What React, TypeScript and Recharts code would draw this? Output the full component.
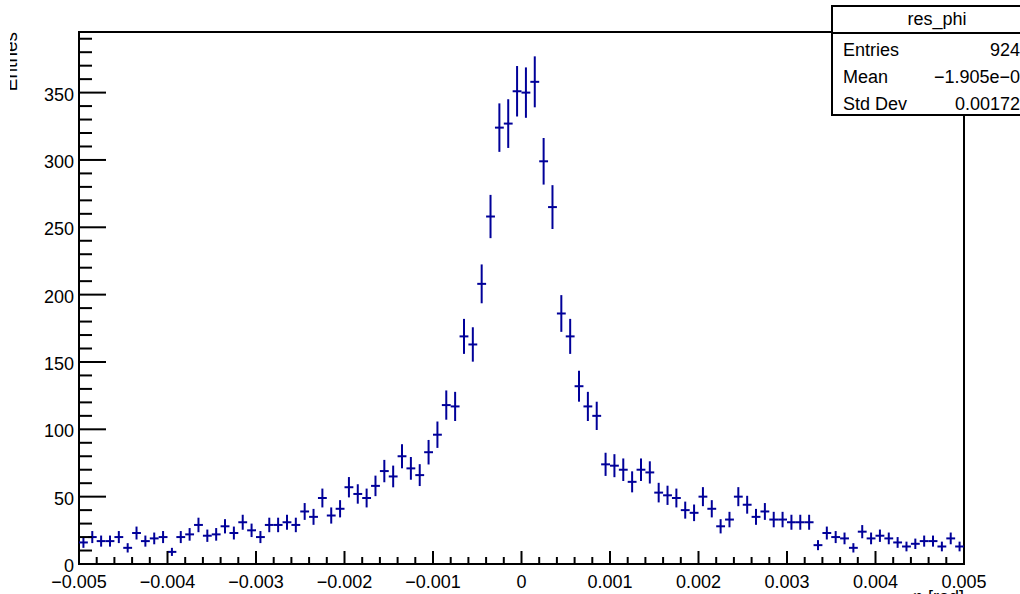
import React from "react";
import { ScatterChart, Scatter, XAxis, YAxis, ErrorBar, ReferenceArea } from "recharts";

// res_phi: 100 bins over [-0.005, 0.005] rad
const binLow = -0.005;
const binWidth = 0.0001;

const counts = [
  16, 20, 17, 17, 20, 12, 23, 17, 19, 20,
  9, 20, 22, 29, 21, 22, 28, 23, 31, 25,
  20, 29, 29, 31, 29, 39, 35, 49, 36, 41,
  57, 52, 49, 58, 69, 65, 80, 71, 66, 83,
  96, 118, 117, 169, 163, 208, 258, 324, 327, 351,
  350, 358, 299, 265, 186, 169, 132, 117, 110, 74,
  73, 70, 61, 70, 68, 53, 51, 49, 40, 38,
  50, 41, 28, 33, 50, 44, 35, 39, 33, 33,
  31, 31, 31, 14, 23, 20, 19, 12, 24, 19,
  21, 19, 16, 13, 15, 17, 17, 13, 19, 13,
];

const yMax = 395;
const yMajorTicks = [0, 50, 100, 150, 200, 250, 300, 350];
const xMajorTicks = [-0.005, -0.004, -0.003, -0.002, -0.001, 0, 0.001, 0.002, 0.003, 0.004, 0.005];

const statsTitle = "res_phi";
const statsLabels = ["Entries", "Mean", "Std Dev"];
const statsValues = ["9240", "\u22121.905e\u221205", "0.001723"];

const yTitle = "Entries";
const xTitle = "\u03c6 [rad]";

const HIST = "#000099";
const FONT = "'Liberation Sans', Arial, Helvetica, sans-serif";

const points = counts.map((c, i) => ({
  x: binLow + (i + 0.5) * binWidth,
  y: c,
  err: Math.sqrt(c),
  xerr: binWidth / 2,
}));

// minor ticks: 10 on y, 0.0002 on x
const yTicks: number[] = [];
for (let v = 0; v < yMax; v += 10) yTicks.push(v);
const xTicks: number[] = [];
for (let k = -50; k <= 50; k += 2) xTicks.push(k / 10000);

const fmtX = (v: number) => {
  if (Math.abs(v) < 1e-9) return "0";
  return (v < 0 ? "\u2212" : "") + Math.abs(v).toFixed(3);
};

function YTick(props: any) {
  const { x, y, payload } = props;
  const v = payload.value;
  const major = yMajorTicks.includes(v);
  return (
    <g>
      <line x1={x} x2={x + (major ? 27 : 13)} y1={y} y2={y} stroke="#000" strokeWidth={2} />
      {major && (
        <text x={x - 5} y={y + 8} textAnchor="end" fontSize={18} fill="#000" fontFamily={FONT}>
          {v}
        </text>
      )}
    </g>
  );
}

function XTick(props: any) {
  const { x, y, payload } = props;
  const v = payload.value;
  const major = xMajorTicks.some((m) => Math.abs(m - v) < 1e-9);
  return (
    <g>
      <line x1={x} x2={x} y1={y} y2={y - (major ? 13 : 7)} stroke="#000" strokeWidth={2} />
      {major && (
        <text x={x} y={y + 24} textAnchor="middle" fontSize={18} fill="#000" fontFamily={FONT}>
          {fmtX(v)}
        </text>
      )}
    </g>
  );
}

export default function App() {
  return (
    <div
      style={{
        position: "absolute",
        left: 0,
        top: 0,
        width: 1020,
        height: 594,
        overflow: "hidden",
        background: "#fff",
        fontFamily: FONT,
      }}
    >
      <ScatterChart width={1020} height={594} margin={{ top: 32, right: 56, bottom: 0, left: 0 }}>
        <XAxis
          dataKey="x"
          type="number"
          domain={[-0.005, 0.005]}
          allowDataOverflow
          ticks={xTicks}
          interval={0}
          tick={<XTick />}
          tickLine={false}
          axisLine={false}
          tickSize={0}
          tickMargin={0}
          height={30}
        />
        <YAxis
          dataKey="y"
          type="number"
          domain={[0, yMax]}
          allowDataOverflow
          ticks={yTicks}
          interval={0}
          tick={<YTick />}
          tickLine={false}
          axisLine={false}
          tickSize={0}
          tickMargin={0}
          width={79}
        />
        <ReferenceArea
          x1={-0.005}
          x2={0.005}
          y1={0}
          y2={yMax}
          fill="none"
          fillOpacity={0}
          stroke="#000"
          strokeWidth={2}
        />
        <Scatter data={points} isAnimationActive={false} shape={() => <g />}>
          <ErrorBar dataKey="err" direction="y" width={0} stroke={HIST} strokeWidth={2} />
          <ErrorBar dataKey="xerr" direction="x" width={0} stroke={HIST} strokeWidth={2} />
        </Scatter>
      </ScatterChart>

      <svg
        width={1020}
        height={594}
        style={{ position: "absolute", left: 0, top: 0, pointerEvents: "none" }}
      >
        <defs>
          <clipPath id="ytitle-clip">
            <rect x={10} y={0} width={30} height={200} />
          </clipPath>
        </defs>
        <g clipPath="url(#ytitle-clip)">
          <text
            transform="translate(17,32) rotate(-90)"
            textAnchor="end"
            fontSize={19}
            fill="#000"
            fontFamily={FONT}
          >
            {yTitle}
          </text>
        </g>
        <text x={964} y={603} textAnchor="end" fontSize={18} fill="#000" fontFamily={FONT}>
          {xTitle}
        </text>

        {/* stats box */}
        <rect x={832} y={6} width={210} height={109} fill="#fff" stroke="#000" strokeWidth={2} />
        <line x1={832} x2={1042} y1={33} y2={33} stroke="#000" strokeWidth={2} />
        <text x={937} y={25} textAnchor="middle" fontSize={18} fill="#000" fontFamily={FONT}>
          {statsTitle}
        </text>
        {statsLabels.map((lab, i) => (
          <text key={lab} x={843} y={56 + i * 27} fontSize={18} fill="#000" fontFamily={FONT}>
            {lab}
          </text>
        ))}
        {statsValues.map((val, i) => (
          <text
            key={i}
            x={1030}
            y={56 + i * 27}
            textAnchor="end"
            fontSize={18}
            fill="#000"
            fontFamily={FONT}
          >
            {val}
          </text>
        ))}
      </svg>
    </div>
  );
}
